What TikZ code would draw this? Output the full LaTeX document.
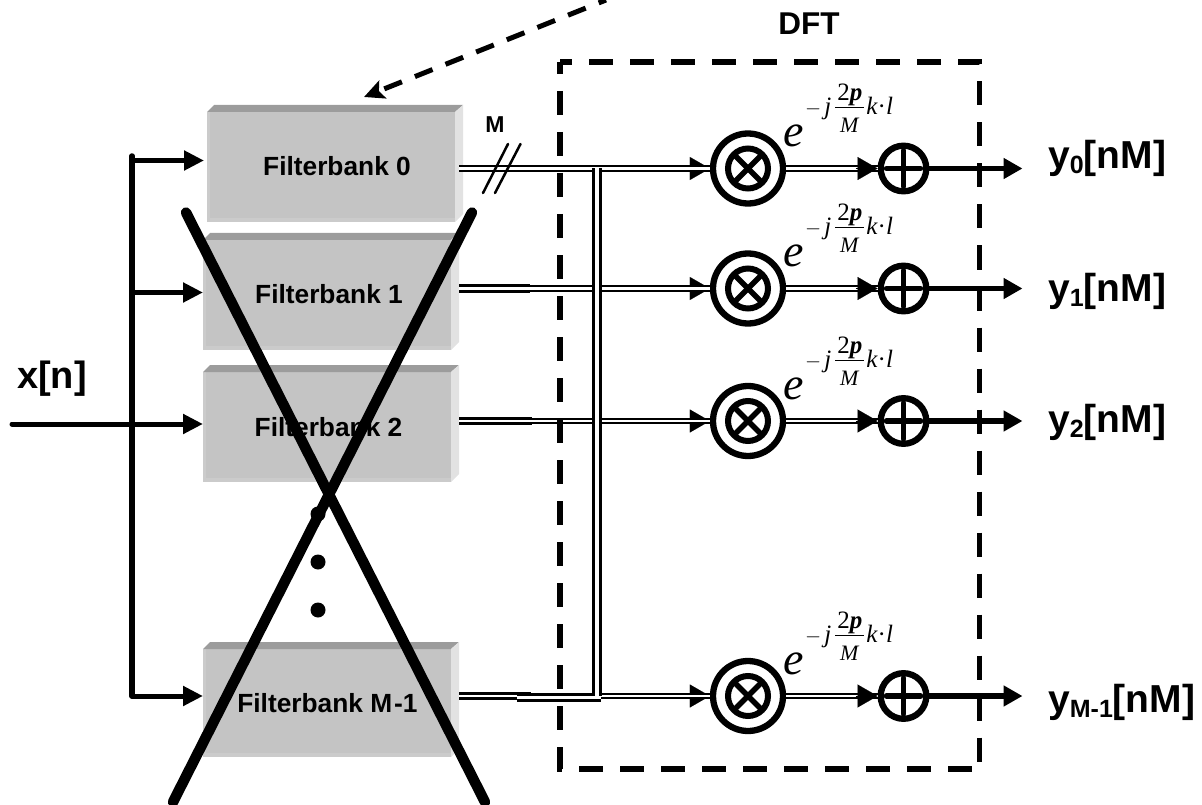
\documentclass[tikz,border=0pt]{standalone}
\usepackage{fontspec}
\setmainfont{Liberation Sans}
\newfontfamily\timesf{Liberation Serif}
\usetikzlibrary{arrows.meta,calc}
\definecolor{fbfront}{HTML}{C4C4C4}
\definecolor{fbtop}{HTML}{9C9C9C}
\definecolor{fbside}{HTML}{E2E2E2}
\definecolor{fbedge}{HTML}{CBCBCB}
\newcommand{\outlab}[1]{\textbf{y\raisebox{-5pt}{\fontsize{25}{25}\selectfont #1}[nM]}}
\newcommand{\expon}{{\timesf\fontsize{22}{22}\selectfont \(-\)\hspace{3pt}\fontsize{25}{25}\selectfont\textit{j}\hspace{4pt}\rlap{\raisebox{14pt}{\makebox[29pt]{2\textbf{\textit{p}}}}}\rlap{\raisebox{-18pt}{\makebox[29pt]{\fontsize{22}{22}\selectfont\textit{M}}}}\rule[6pt]{29pt}{1pt}\hspace{2pt}\textit{k}·\textit{l}}}
\tikzset{
  fbbox/.style={minimum width=256pt,minimum height=117pt,inner sep=0pt,outer sep=0pt,
    path picture={
      \coordinate (nw) at (path picture bounding box.north west);
      \coordinate (se) at (path picture bounding box.south east);
      \fill[fbfront] (nw) ++(0,7) rectangle ($(se)+(-8,0)$);
      \fill[fbedge] ($(nw)+(0,7)$) rectangle ($(nw|-se)+(3,0)$);
      \fill[fbedge] ($(nw|-se)+(0,-4)$) rectangle ($(se)+(-8,0)$);
      \fill[fbtop] ($(nw)+(0,7)$) -- ($(nw)+(7,0)$) -- (nw-|se) -- ($(nw-|se)+(-8,7)$) -- cycle;
      \fill[fbside] ($(nw-|se)+(-8,7)$) -- (nw-|se) -- ($(se)+(0,-8)$) -- ($(se)+(-8,0)$) -- cycle;
    }},
  fblabel/.style={font=\bfseries\fontsize{26.3}{26.3}\selectfont,inner sep=0pt,anchor=base},
  feed/.style={line width=5pt,line cap=round,-{Triangle[length=20pt,width=19pt]}},
  dbl/.style={line width=2.2pt,double=white,double distance=2.4pt},
  dblthick/.style={line width=3pt,double=white,double distance=2.5pt},
  dbltip/.style={line width=.1pt,-{Triangle[length=20pt,width=23pt]}},
  multo/.style={circle,draw,line width=6.3pt,minimum size=70pt,inner sep=0pt},
  multi/.style={circle,draw,line width=6pt,minimum size=40pt,inner sep=0pt},
  summ/.style={circle,draw,line width=6.3pt,minimum size=45.6pt,inner sep=0pt},
  sym/.style={line width=5.5pt,line cap=round},
  outarrow/.style={line width=5.5pt,-{Triangle[length=19pt,width=20pt]}},
  dashbox/.style={line width=5.5pt,dash pattern=on 24pt off 17pt,dash phase=12pt},
  crossline/.style={line width=10.5pt,line cap=round},
  bigdot/.style={circle,fill=black,minimum size=15pt,inner sep=0pt},
  outtext/.style={font=\fontsize{39}{39}\selectfont,anchor=base west,inner sep=0pt},
}
\begin{document}
\begin{tikzpicture}[x=1pt,y=-1pt]
\useasboundingbox (0,0) rectangle (1202,805);
% filterbank boxes
\node[fbbox] (fb0) at (335,163.5) {};
\node[fbbox] (fb1) at (331,291.5) {};
\node[fbbox] (fb2) at (331,423.5) {};
\node[fbbox,minimum height=115pt] (fb3) at (331,699.5) {};
\node[fblabel] (l0) at (337,176) {Filterbank 0};
\node[fblabel] (l1) at (329,303) {Filterbank 1};
\node[fblabel] (l2) at (328.5,436) {Filterbank 2};
\node[fblabel] (l3) at (327.5,712) {Filterbank M\hspace{2pt}-1};
% dots
\node[bigdot] (d1) at (318,514) {};
\node[bigdot] (d2) at (318,562) {};
\node[bigdot] (d3) at (318,610) {};
% input
\node[font=\bfseries\fontsize{38}{38}\selectfont,inner sep=0pt,anchor=base] (x) at (52,388) {x[n]};
\coordinate (in) at (12,424);
\coordinate (bt) at (132,156);
\coordinate (bb) at (132,696);
\coordinate (a0) at (204,160.5);
\coordinate (a1) at (203,292.5);
\coordinate (a2) at (203,424);
\coordinate (a3) at (203,696);
\draw[line width=5.5pt,line cap=round] (bt) -- (bb);
\draw[feed] (bt|-a0) -- (a0);
\draw[feed] (bb) -- (a3);
\draw[feed] (bt|-a1) -- (a1);
\draw[feed] (in) -- (a2);
% multipliers, adders
\foreach \i/\r in {0/168.5,1/288.5,2/421,3/696}{
  \node[multo] (m\i) at (748,\r) {};
  \node[multi] (mi\i) at (748,\r) {};
  \node[summ] (s\i) at (903.5,\r) {};
  \draw[sym] ($(mi\i)+(-12.5,-12.5)$) -- ($(mi\i)+(12.5,12.5)$);
  \draw[sym] ($(mi\i)+(12.5,-12.5)$) -- ($(mi\i)+(-12.5,12.5)$);
  \draw[sym] ($(s\i)+(-17,0)$) -- ($(s\i)+(17,0)$);
  \draw[sym] ($(s\i)+(0,-18)$) -- ($(s\i)+(0,18)$);
  \draw[dbl] (m\i.east) -- (s\i.west);
  \draw[dbltip] ($(s\i.west)+(-22,0)$) -- (s\i.west);
  \draw[dbltip] ($(m\i.west)+(-22,0)$) -- (m\i.west);
  \node[font=\timesf\itshape\fontsize{46}{46}\selectfont,inner sep=0pt,anchor=base] (e\i) at (794,\r-22) {e};
  \node[inner sep=0pt,anchor=base west] (f\i) at (805,\r-54) {\expon};
  \coordinate (o\i) at (1022.5,\r);
  \draw[outarrow] (s\i.east) -- (o\i);
}
% double connectors
\coordinate (j0) at (597,168.5);
\coordinate (j3) at (597,696);
\draw[dbl] ($(fb0.east|-m0)+(-4,0)$) -- (m0.west);
\draw[dblthick] (fb1.east|-m1) -- (530,288.5);
\draw[dbl] (517,288.5) -- (m1.west);
\draw[dblthick] (fb2.east|-m2) -- (532,421);
\draw[dbl] (517,421) -- (m2.west);
\draw[dblthick] (fb3.east|-m3) -- (531,696);
\draw[dbl] (601,696) -- (m3.west);
\draw[dblthick] (517,697.5) -- (601,697.5);
\draw[line width=3pt,double=white,double distance=3.5pt] (j0) -- (j3);
% M bus mark
\node[font=\bfseries\fontsize{23}{23}\selectfont,inner sep=0pt,anchor=base] (mm) at (495,133) {M};
\coordinate (t1) at (483,193); \coordinate (t2) at (508,144);
\coordinate (t3) at (495,193); \coordinate (t4) at (520.5,144);
\draw[line width=2.5pt,line cap=round] (t1) -- (t2);
\draw[line width=2.5pt,line cap=round] (t3) -- (t4);
% DFT box
\coordinate (b1) at (560,62);
\coordinate (b2) at (979.5,769);
\draw[dashbox] (b1) -- (b1-|b2) -- (b2);
\draw[dashbox] (b1) -- (b1|-b2) -- (b2);
\node[font=\bfseries\fontsize{31.5}{31.5}\selectfont,inner sep=0pt,anchor=base] (dft) at (809,34.5) {DFT};
% dashed arrow
\coordinate (da) at (606,0);
\coordinate (db) at (364,97);
\draw[line width=5pt,dash pattern=on 19pt off 14pt,dash phase=26pt,{Stealth[length=20pt,width=19pt,inset=4pt]}-] (db) -- (da);
% big cross
\coordinate (c1) at (186,212.5); \coordinate (c2) at (485,802);
\coordinate (c3) at (472,212.5); \coordinate (c4) at (173,802);
\draw[crossline] (c1) -- (c2);
\draw[crossline] (c3) -- (c4);
% output labels
\node[outtext] (y0) at (1048,168.5) {\outlab{0}};
\node[outtext] (y1) at (1048,301) {\outlab{1}};
\node[outtext] (y2) at (1048,432.5) {\outlab{2}};
\node[outtext] (y3) at (1048,712) {\outlab{M-1}};
\end{tikzpicture}
\end{document}
